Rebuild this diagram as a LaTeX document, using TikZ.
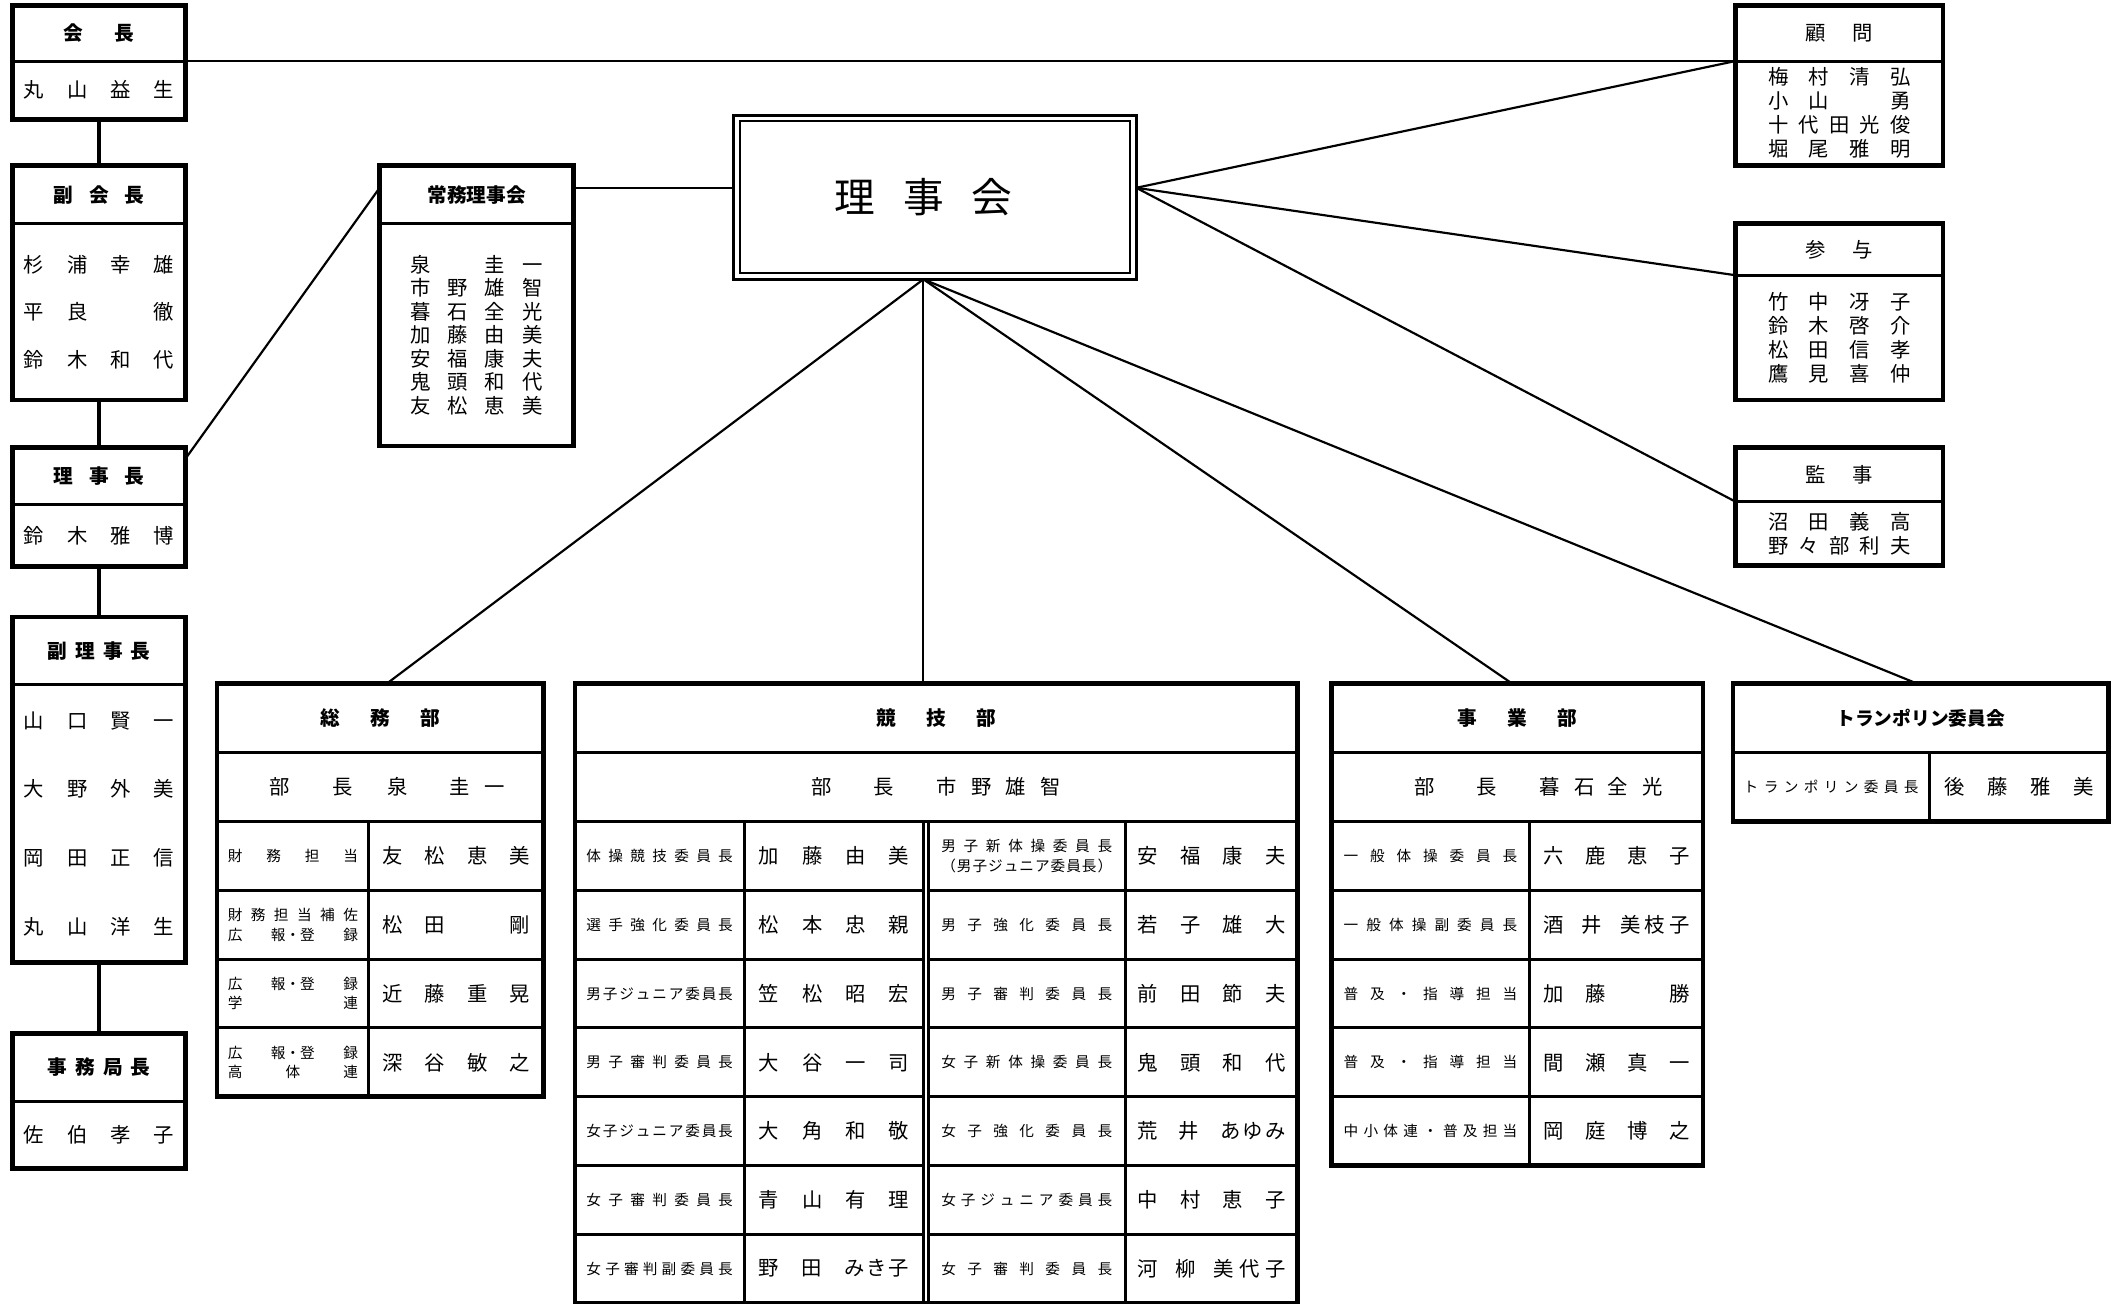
\documentclass[tikz,border=0pt]{standalone}
\usepackage{fontspec}
\setmainfont{Noto Sans CJK JP}
\usetikzlibrary{calc}

% spread the characters (or {groups}) of #2 evenly over width #1
\newcommand{\sprd}[2]{\makebox[#1][s]{\expandafter\sprdfirst#2\relax}}
\def\sprdfirst#1{#1\sprdloop}
\def\sprdloop#1{\ifx\relax#1\else\hfil#1\expandafter\sprdloop\fi}

\begin{document}
\begin{tikzpicture}[x=1pt,y=1pt,yscale=-1,
  cell/.style={draw, line width=2.2pt, inner sep=0pt, outer sep=0pt, anchor=north west},
  frame/.style={line width=3.5pt},
  link/.style={line width=1.6pt},
  nm/.style={font=\fontsize{15pt}{17pt}\selectfont, align=center},
  hd/.style={font=\bfseries\fontsize{14.5pt}{17pt}\selectfont},
  lab/.style={font=\fontsize{10.8pt}{14.5pt}\selectfont, align=center}]

\useasboundingbox (0,0) rectangle (1565,961.7);

% left column
\node[cell, hd, minimum width=128pt, minimum height=41pt] (kaichoH) at (9,4) {\sprd{52pt}{会長}};
\node[cell, nm, minimum width=128pt, minimum height=43pt] (kaicho) at (9,45) {\sprd{111pt}{丸山益生}};
\draw[frame] (kaichoH.north west) rectangle (kaicho.south east);

\node[cell, hd, minimum width=128pt, minimum height=43pt] (fukukaichoH) at (9,122) {\sprd{67pt}{副会長}};
\node[cell, nm, minimum width=128pt, minimum height=130pt, font=\fontsize{15pt}{35pt}\selectfont] (fukukaicho) at (9,165)
  {\sprd{111pt}{杉浦幸雄}\\\sprd{111pt}{平良　徹}\\\sprd{111pt}{鈴木和代}};
\draw[frame] (fukukaichoH.north west) rectangle (fukukaicho.south east);

\node[cell, hd, minimum width=128pt, minimum height=42pt] (rijichoH) at (9,330) {\sprd{67pt}{理事長}};
\node[cell, nm, minimum width=128pt, minimum height=46pt] (rijicho) at (9,372) {\sprd{111pt}{鈴木雅博}};
\draw[frame] (rijichoH.north west) rectangle (rijicho.south east);

\node[cell, hd, minimum width=128pt, minimum height=50pt] (fukurijichoH) at (9,455) {\sprd{76pt}{副理事長}};
\node[cell, nm, minimum width=128pt, minimum height=205pt, font=\fontsize{15pt}{50.7pt}\selectfont] (fukurijicho) at (9,505)
  {\sprd{111pt}{山口賢一}\\\sprd{111pt}{大野外美}\\\sprd{111pt}{岡田正信}\\\sprd{111pt}{丸山洋生}};
\draw[frame] (fukurijichoH.north west) rectangle (fukurijicho.south east);

\node[cell, hd, minimum width=128pt, minimum height=50pt] (jimukyokuchoH) at (9,762) {\sprd{76pt}{事務局長}};
\node[cell, nm, minimum width=128pt, minimum height=50pt] (jimukyokucho) at (9,812) {\sprd{111pt}{佐伯孝子}};
\draw[frame] (jimukyokuchoH.north west) rectangle (jimukyokucho.south east);

% 常務理事会
\node[cell, hd, font=\bfseries\fontsize{14.5pt}{17pt}\selectfont, minimum width=143pt, minimum height=43pt] (jomuH) at (280,122) {常務理事会};
\node[cell, nm, minimum width=143pt, minimum height=164pt, font=\fontsize{15pt}{17.3pt}\selectfont] (jomu) at (280,165)
  {\sprd{97pt}{泉　圭一}\\\sprd{97pt}{市野雄智}\\\sprd{97pt}{暮石全光}\\\sprd{97pt}{加藤由美}\\
   \sprd{97pt}{安福康夫}\\\sprd{97pt}{鬼頭和代}\\\sprd{97pt}{友松恵美}};
\draw[frame] (jomuH.north west) rectangle (jomu.south east);

% 理事会
\node[draw, line width=2.5pt, outer sep=0pt, anchor=north west, minimum width=297pt, minimum height=121pt] (rijikai) at (541,85) {};
\draw[line width=1.5pt] ($(rijikai.north west)+(4.5,4.5)$) rectangle ($(rijikai.south east)+(-4.5,-4.5)$);
\node[font=\fontsize{30pt}{30pt}\selectfont, inner sep=0pt] (rjtitle) at (681,145) {\sprd{131pt}{理事会}};
\coordinate (rjR) at ($(rijikai.east)+(0,-7)$);
\coordinate (rjB) at (rjtitle |- rijikai.south);

% right column
\node[cell, nm, minimum width=153pt, minimum height=41pt] (komonH) at (1280,4) {\sprd{50pt}{顧問}};
\node[cell, nm, minimum width=153pt, minimum height=77pt, font=\fontsize{15pt}{17.7pt}\selectfont] (komon) at (1280,45)
  {\sprd{105pt}{梅村清弘}\\\sprd{105pt}{小山　勇}\\\sprd{105pt}{十代田光俊}\\\sprd{105pt}{堀尾雅明}};
\draw[frame] (komonH.north west) rectangle (komon.south east);

\node[cell, nm, minimum width=153pt, minimum height=38pt] (sanyoH) at (1280,165) {\sprd{50pt}{参与}};
\node[cell, nm, minimum width=153pt, minimum height=92pt, font=\fontsize{15pt}{17.7pt}\selectfont] (sanyo) at (1280,203)
  {\sprd{105pt}{竹中冴子}\\\sprd{105pt}{鈴木啓介}\\\sprd{105pt}{松田信孝}\\\sprd{105pt}{鷹見喜仲}};
\draw[frame] (sanyoH.north west) rectangle (sanyo.south east);

\node[cell, nm, minimum width=153pt, minimum height=40pt] (kanjiH) at (1280,330) {\sprd{50pt}{監事}};
\node[cell, nm, minimum width=153pt, minimum height=47pt, font=\fontsize{15pt}{17.7pt}\selectfont] (kanji) at (1280,370)
  {\sprd{105pt}{沼田義高}\\\sprd{105pt}{野々部利夫}};
\draw[frame] (kanjiH.north west) rectangle (kanji.south east);

% 総務部
\node[cell, hd, minimum width=241pt, minimum height=51pt] (somuH) at (160,504) {\sprd{88pt}{総務部}};
\node[cell, nm, minimum width=241pt, minimum height=51pt] (somuB) at (160,555)
  {\hspace*{10.5pt}部\hspace{31.5pt}長\hspace{25.6pt}泉\hspace{30.4pt}圭\hspace{11pt}一};
\foreach \labA/\namA [count=\i] in {
    {\sprd{96pt}{財務担当}}/友松恵美,
    {\sprd{96pt}{財務担当補佐}\\\sprd{96pt}{広{報・登}録}}/松田　剛,
    {\sprd{96pt}{広{報・登}録}\\\sprd{96pt}{学連}}/近藤重晃,
    {\sprd{96pt}{広{報・登}録}\\\sprd{96pt}{高体連}}/深谷敏之} {
  \node[cell, lab, minimum width=112pt, minimum height=50.7pt] (somuL\i) at (160,{606+50.7*(\i-1)}) {\labA};
  \node[cell, nm, minimum width=129pt, minimum height=50.7pt] (somuN\i) at (272,{606+50.7*(\i-1)}) {\sprd{109pt}{\namA}};
}
\draw[frame] (somuH.north west) rectangle (somuN4.south east);

% 競技部
\node[cell, hd, minimum width=533pt, minimum height=51pt] (kyogiH) at (424,504) {\sprd{88pt}{競技部}};
\node[cell, nm, minimum width=533pt, minimum height=51pt] (kyogiB) at (424,555)
  {部\hspace{30.7pt}長\hspace{31.3pt}市\hspace{10.7pt}野\hspace{10pt}雄\hspace{10.9pt}智};
\foreach \labA/\namA/\labB/\namB [count=\i] in {
    {\sprd{108pt}{体操競技委員長}}/加藤由美/{\sprd{126pt}{男子新体操委員長}\\\sprd{126pt}{（男子ジュニア委員長）}}/安福康夫,
    {\sprd{108pt}{選手強化委員長}}/松本忠親/{\sprd{126pt}{男子強化委員長}}/若子雄大,
    {\sprd{108pt}{男子ジュニア委員長}}/笠松昭宏/{\sprd{126pt}{男子審判委員長}}/前田節夫,
    {\sprd{108pt}{男子審判委員長}}/大谷一司/{\sprd{126pt}{女子新体操委員長}}/鬼頭和代,
    {\sprd{108pt}{女子ジュニア委員長}}/大角和敬/{\sprd{126pt}{女子強化委員長}}/荒井{あ\kern1.5pt ゆ\kern1.5pt み},
    {\sprd{108pt}{女子審判委員長}}/青山有理/{\sprd{126pt}{女子ジュニア委員長}}/中村恵子,
    {\sprd{108pt}{女子審判副委員長}}/野田{み\kern1.5pt き\kern1.5pt 子}/{\sprd{126pt}{女子審判委員長}}/河柳{美\kern4pt 代\kern4pt 子}} {
  \node[cell, lab, minimum width=125pt, minimum height=50.7pt] (kyogiLA\i) at (424,{606+50.7*(\i-1)}) {\labA};
  \node[cell, nm, minimum width=132pt, minimum height=50.7pt] (kyogiNA\i) at (549,{606+50.7*(\i-1)}) {\sprd{111pt}{\namA}};
  \node[cell, lab, minimum width=145.5pt, minimum height=50.7pt] (kyogiLB\i) at (684.5,{606+50.7*(\i-1)}) {\labB};
  \node[cell, nm, minimum width=127pt, minimum height=50.7pt] (kyogiNB\i) at (830,{606+50.7*(\i-1)}) {\sprd{109pt}{\namB}};
}
\draw[frame] (kyogiH.north west) rectangle (kyogiNB7.south east);

% 事業部
\node[cell, hd, minimum width=274pt, minimum height=51pt] (jigyoH) at (982,504) {\sprd{88pt}{事業部}};
\node[cell, nm, minimum width=274pt, minimum height=51pt] (jigyoB) at (982,555)
  {\hspace*{32pt}部\hspace{30.4pt}長\hspace{31.6pt}暮\hspace{11pt}石\hspace{9pt}全\hspace{11pt}光};
\foreach \labA/\namA [count=\i] in {
    {\sprd{128pt}{一般体操委員長}}/六鹿恵子,
    {\sprd{128pt}{一般体操副委員長}}/酒井{美\kern3pt 枝\kern3pt 子},
    {\sprd{128pt}{普及・指導担当}}/加藤　勝,
    {\sprd{128pt}{普及・指導担当}}/間瀬真一,
    {\sprd{128pt}{中小体連・普及担当}}/岡庭博之} {
  \node[cell, lab, minimum width=146pt, minimum height=50.7pt] (jigyoL\i) at (982,{606+50.7*(\i-1)}) {\labA};
  \node[cell, nm, minimum width=128pt, minimum height=50.7pt] (jigyoN\i) at (1128,{606+50.7*(\i-1)}) {\sprd{108pt}{\namA}};
}
\draw[frame] (jigyoH.north west) rectangle (jigyoN5.south east);

% トランポリン委員会
\node[cell, hd, font=\bfseries\fontsize{13.8pt}{17pt}\selectfont, minimum width=277pt, minimum height=51pt] (tramH) at (1278,504) {トランポリン委員会};
\node[cell, lab, minimum width=145pt, minimum height=51pt] (tramL) at (1278,555) {\sprd{129pt}{トランポリン委員長}};
\node[cell, nm, minimum width=132pt, minimum height=51pt] (tramN) at (1423,555) {\sprd{110pt}{後藤雅美}};
\draw[frame] (tramH.north west) rectangle (tramN.south east);

% connectors
\draw[link] (kaichoH.south east) -- (komonH.south west);
\draw[link, line width=2.4pt] (kaicho.south) -- (fukukaichoH.north);
\draw[link, line width=2.4pt] (fukukaicho.south) -- (rijichoH.north);
\draw[link, line width=2.4pt] (rijicho.south) -- (fukurijichoH.north);
\draw[link, line width=2.4pt] (fukurijicho.south) -- (jimukyokuchoH.north);
\draw[link] ($(rijichoH.north east)+(0,8)$) -- ($(jomuH.west)+(0,-5)$);
\draw[link] ($(jomuH.east)+(0,-5)$) -- ($(jomuH.east -| rijikai.west)+(0,-5)$);
\draw[link] (rjR) -- (komonH.south west);
\draw[link] (rjR) -- (sanyoH.south west);
\draw[link] (rjR) -- (kanjiH.south west);
\draw[link] (rjB) -- ($(somuH.north)+(5,0)$);
\draw[link] (rjB) -- (rjB |- kyogiH.north);
\draw[link] (rjB) -- ($(jigyoH.north)+(-4,0)$);
\draw[link] (rjB) -- ($(tramH.north)+(-3,0)$);
\end{tikzpicture}
\end{document}
